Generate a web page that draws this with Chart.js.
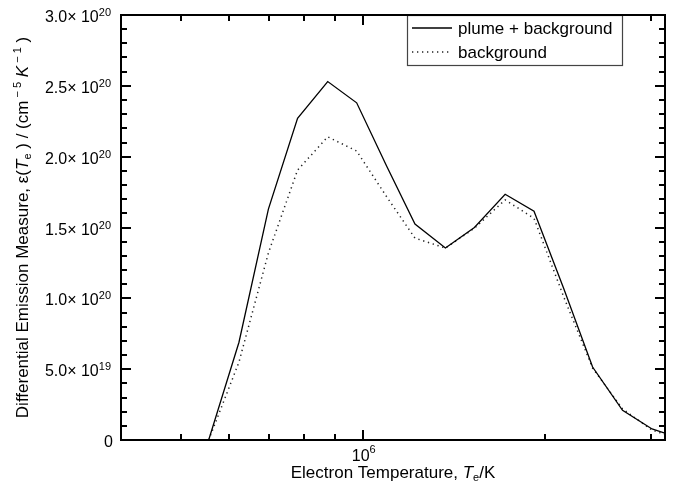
<!DOCTYPE html>
<html>
<head>
<meta charset="utf-8">
<script src="https://cdn.jsdelivr.net/npm/chart.js@4.4.1/dist/chart.umd.min.js"></script>
<style>
  html, body { margin: 0; padding: 0; background: #fff; }
</style>
</head>
<body>
<canvas id="demChart" width="678" height="485"></canvas>
<script>
// electron temperature grid (K) and DEM values (cm^-5 K^-1)
const temperatures = [5.56e5, 6.24e5, 6.98e5, 7.80e5, 8.75e5, 9.77e5, 1.096e6, 1.22e6, 1.37e6,
                      1.53e6, 1.72e6, 1.92e6, 2.15e6, 2.40e6, 2.69e6, 3.01e6, 3.16e6];
const plumeBackground = [0, 0.69e20, 1.63e20, 2.27e20, 2.53e20, 2.38e20, 1.93e20, 1.525e20, 1.355e20,
                         1.50e20, 1.735e20, 1.615e20, 1.07e20, 0.515e20, 0.21e20, 0.078e20, 0.049e20];
const background = [0, 0.55e20, 1.32e20, 1.905e20, 2.14e20, 2.04e20, 1.715e20, 1.425e20, 1.355e20,
                    1.495e20, 1.695e20, 1.565e20, 1.01e20, 0.508e20, 0.219e20, 0.07e20, 0.04e20];

const yTickValues = [0, 5e19, 1e20, 1.5e20, 2e20, 2.5e20, 3e20];
const yTickMantissas = ['0', '5.0× 10', '1.0× 10', '1.5× 10', '2.0× 10', '2.5× 10', '3.0× 10'];
const yTickExponents = ['', '19', '20', '20', '20', '20', '20'];
const yMinorStep = 1e19;
const xMajorTicks = [1e6];
const xMajorLabels = [['10', '6']];
const xMinorTicks = [5e5, 6e5, 7e5, 8e5, 9e5, 2e6, 3e6];

const FONT = '"Liberation Sans", Arial, Helvetica, sans-serif';

// draw a run of text pieces [text, fontSize, italic, dy] starting at x
function richWidth(ctx, parts) {
  let w = 0;
  parts.forEach(p => {
    ctx.font = (p[2] ? 'italic ' : '') + p[1] + 'px ' + FONT;
    w += ctx.measureText(p[0]).width;
  });
  return w;
}
function drawRich(ctx, parts, x, y) {
  parts.forEach(p => {
    ctx.font = (p[2] ? 'italic ' : '') + p[1] + 'px ' + FONT;
    ctx.fillText(p[0], x, y + (p[3] || 0));
    x += ctx.measureText(p[0]).width;
  });
}

const axesPlugin = {
  id: 'axesPlugin',
  afterDatasetsDraw(chart) {
    const ctx = chart.ctx;
    const a = chart.chartArea;
    const xs = chart.scales.x, ys = chart.scales.y;
    ctx.save();
    ctx.strokeStyle = '#000';
    ctx.fillStyle = '#000';
    ctx.lineWidth = 2;

    // inward ticks on all four sides
    function xTick(v, len) {
      const px = Math.round(xs.getPixelForValue(v));
      ctx.beginPath();
      ctx.moveTo(px, a.bottom); ctx.lineTo(px, a.bottom - len);
      ctx.moveTo(px, a.top); ctx.lineTo(px, a.top + len);
      ctx.stroke();
    }
    function yTick(v, len) {
      const py = Math.round(ys.getPixelForValue(v));
      ctx.beginPath();
      ctx.moveTo(a.left, py); ctx.lineTo(a.left + len, py);
      ctx.moveTo(a.right, py); ctx.lineTo(a.right - len, py);
      ctx.stroke();
    }
    xMinorTicks.forEach(v => xTick(v, 6));
    xMajorTicks.forEach(v => xTick(v, 10));
    for (let v = yMinorStep; v < ys.max; v += yMinorStep) yTick(v, 6);
    yTickValues.forEach(v => yTick(v, 10));

    // legend box
    const lx = 407, ly = a.top, lw = 215, lh = 50;
    ctx.fillStyle = '#fff';
    ctx.fillRect(lx, ly, lw, lh);
    ctx.lineWidth = 1.2;
    ctx.strokeStyle = '#444';
    ctx.strokeRect(lx + 0.5, ly + 0.5, lw, lh);
    ctx.fillStyle = '#000';
    chart.data.datasets.forEach((ds, i) => {
      const yy = ly + 13 + i * 24;
      ctx.save();
      ctx.strokeStyle = ds.borderColor;
      ctx.lineWidth = ds.borderWidth;
      ctx.setLineDash(ds.borderDash || []);
      ctx.beginPath();
      ctx.moveTo(lx + 5, yy); ctx.lineTo(lx + 45, yy);
      ctx.stroke();
      ctx.restore();
      ctx.font = '17px ' + FONT;
      ctx.textBaseline = 'alphabetic';
      ctx.fillText(ds.label, lx + 51, yy + 6);
    });

    // frame
    ctx.strokeStyle = '#000';
    ctx.lineWidth = 2;
    ctx.strokeRect(a.left, a.top, a.right - a.left, a.bottom - a.top);

    // y tick labels
    ctx.textBaseline = 'alphabetic';
    yTickValues.forEach((v, i) => {
      const py = ys.getPixelForValue(v);
      if (!yTickExponents[i]) {
        ctx.font = '16px ' + FONT;
        const w = ctx.measureText(yTickMantissas[i]).width;
        ctx.fillText(yTickMantissas[i], 113 - w, py + 7);
        return;
      }
      const parts = [[yTickMantissas[i], 16, false, 7], [yTickExponents[i], 11, false, 1]];
      drawRich(ctx, parts, 111 - richWidth(ctx, parts), py);
    });

    // x tick labels
    xMajorTicks.forEach((v, i) => {
      const px = xs.getPixelForValue(v);
      const parts = [[xMajorLabels[i][0], 16, false, 0], [xMajorLabels[i][1], 11, false, -8]];
      drawRich(ctx, parts, px + 1 - richWidth(ctx, parts) / 2, 461);
    });

    // x axis title
    const xTitle = [['Electron Temperature, ', 17, false, 0], ['T', 17, true, 0],
                    ['e', 11, false, 3], ['/K', 17, false, 0]];
    drawRich(ctx, xTitle, (a.left + a.right) / 2 - richWidth(ctx, xTitle) / 2, 478);

    // y axis title (rotated)
    const yTitle = [['Differential Emission Measure, ε(', 17, false, 0], ['T', 17, true, 0],
                    ['e', 11, false, 3], [' ) / (cm', 17, false, 0], [' − 5', 11, false, -7],
                    [' ', 17, false, 0], ['K', 17, true, 0], [' − 1', 11, false, -7],
                    [' )', 17, false, 0]];
    ctx.translate(28, (a.top + a.bottom) / 2);
    ctx.rotate(-Math.PI / 2);
    drawRich(ctx, yTitle, -richWidth(ctx, yTitle) / 2, 0);
    ctx.restore();
  }
};

const ctx = document.getElementById('demChart').getContext('2d');
const demChart = new Chart(ctx, {
  type: 'line',
  data: {
    datasets: [{
      label: 'plume + background',
      data: temperatures.map((t, i) => ({ x: t, y: plumeBackground[i] })),
      borderColor: '#000',
      borderWidth: 1.3,
      pointRadius: 0,
      tension: 0,
      fill: false
    }, {
      label: 'background',
      data: temperatures.map((t, i) => ({ x: t, y: background[i] })),
      borderColor: '#222',
      borderWidth: 1.5,
      borderDash: [1.3, 3.7],
      pointRadius: 0,
      tension: 0,
      fill: false
    }]
  },
  options: {
    responsive: false,
    animation: false,
    layout: { padding: { left: 121, top: 15, right: 13, bottom: 45 } },
    plugins: { legend: { display: false }, tooltip: { enabled: false } },
    scales: {
      x: { type: 'logarithmic', min: Math.pow(10, 5.6), max: Math.pow(10, 6.5), display: false },
      y: { type: 'linear', min: 0, max: 3e20, display: false }
    }
  },
  plugins: [axesPlugin]
});
</script>
</body>
</html>
